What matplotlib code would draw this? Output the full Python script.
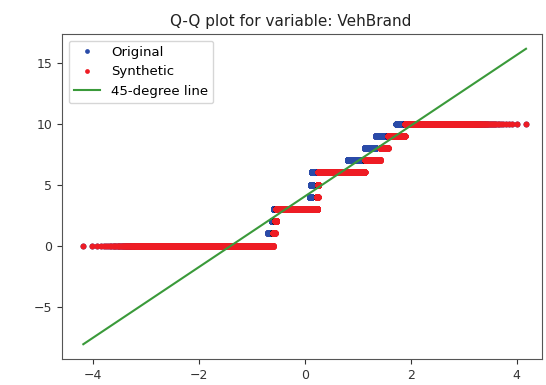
import matplotlib
matplotlib.use("Agg")
import matplotlib.pyplot as plt
import numpy as np
from statistics import NormalDist

# ---- data ----
brand_levels = [0, 1, 2, 3, 4, 5, 6, 7, 8, 9, 10]
# share (%) of each VehBrand level
share_original = [24.51, 2.25, 1.34, 25.88, 0.80, 0.79, 23.53, 8.08, 3.81, 4.83, 4.18]
share_synthetic = [27.43, 1.17, 1.03, 29.66, 0.39, 0.58, 26.82, 5.28, 1.88, 2.82, 2.94]
n_obs = 68000
line_intercept = 4.03
line_slope = 2.9

title = "Q-Q plot for variable: VehBrand"
labels = ["Original", "Synthetic", "45-degree line"]


def sorted_sample(shares, n):
    s = np.array(shares, dtype=float)
    counts = np.round(s / s.sum() * n).astype(int)
    counts[-1] += n - counts.sum()
    return np.repeat(np.array(brand_levels, dtype=float), counts)


nd = NormalDist()
theo_q = np.array([nd.inv_cdf(i / (n_obs + 1)) for i in range(1, n_obs + 1)])
orig = sorted_sample(share_original, n_obs)
synth = sorted_sample(share_synthetic, n_obs)

fig = plt.figure(figsize=(5.46, 3.85), dpi=100)
ax = fig.add_axes([62 / 546, 26 / 385, 480 / 546, 325 / 385])

ax.plot(theo_q, orig, 'o', color='#2a4ba8', ms=4.3, mew=0, label=labels[0])
ax.plot(theo_q, synth, 'o', color='#ee1c24', ms=4.3, mew=0, label=labels[1])
xl = np.array([theo_q[0], theo_q[-1]])
ax.plot(xl, line_intercept + line_slope * xl, color='#3a9a3a', lw=1.5, label=labels[2])

ax.set_xlim(-4.58, 4.48)
ax.set_title(title, fontsize=11, x=0.477, color='#222222', pad=6)
ax.tick_params(labelsize=9, colors='#333333')
for sp in ax.spines.values():
    sp.set_color('#555555')
leg = ax.legend(loc='upper left', fontsize=9.5, markerscale=0.8, handlelength=2.0)

fig.savefig("out.png", dpi=100)
